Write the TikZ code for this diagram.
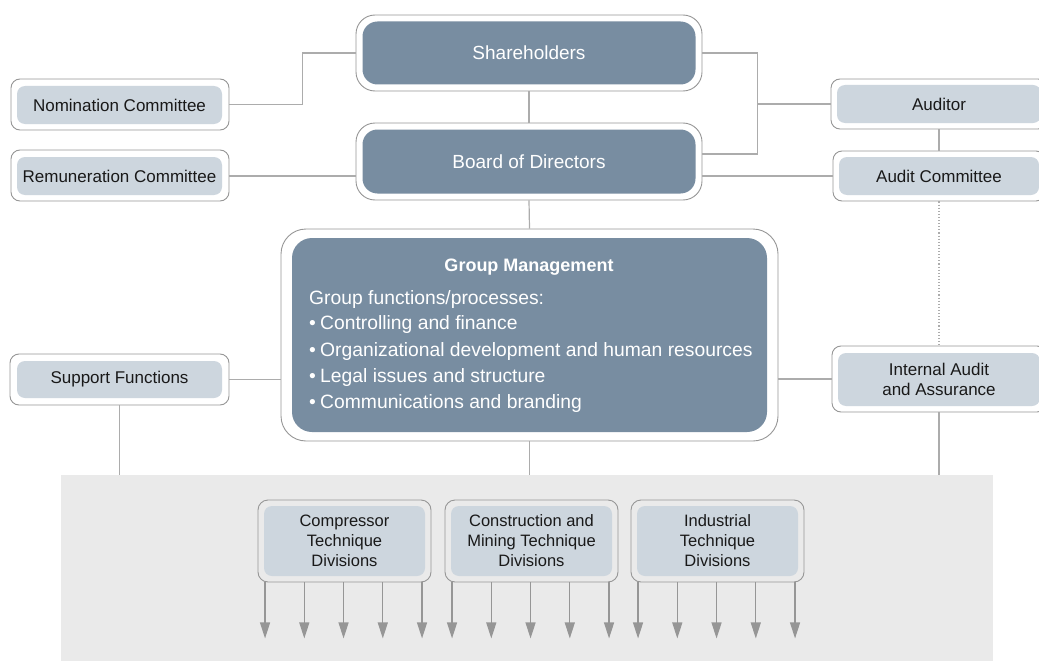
\documentclass[tikz,border=0pt]{standalone}
\usepackage{fontspec}
\setmainfont{Liberation Sans}
\usetikzlibrary{arrows.meta,calc}
\definecolor{darkfill}{RGB}{120,141,161}
\definecolor{lightfill}{RGB}{205,214,222}
\definecolor{bordergray}{RGB}{150,150,150}
\definecolor{linegray}{RGB}{172,172,172}
\definecolor{bandgray}{RGB}{234,234,234}
\definecolor{arrowgray}{RGB}{150,150,150}
\definecolor{txt}{RGB}{25,25,25}
\tikzset{
  outerbox/.style={draw=bordergray, fill=white, line width=0.9pt, rectangle, rounded corners=#1, inner sep=0pt},
  outerbox/.default=9pt,
  darkbox/.style={fill=darkfill, rectangle, rounded corners=#1, inner sep=0pt, text=white, font=\fontsize{19}{22}\selectfont},
  darkbox/.default=15pt,
  lightbox/.style={fill=lightfill, rectangle, rounded corners=#1, inner sep=0pt, text=txt, font=\fontsize{17}{20}\selectfont, align=center},
  lightbox/.default=8pt,
  divbox/.style={lightbox, font=\fontsize{16.5}{20}\selectfont},
  conn/.style={draw=linegray, line width=1.2pt},
  dotconn/.style={draw=linegray, line width=1.1pt, dotted},
  arr/.style={draw=arrowgray, line width=1.2pt, -{Triangle[width=10pt,length=16pt]}},
  gmtext/.style={text=white, inner sep=0pt, font=\fontsize{19.3}{22}\selectfont, anchor=base west}
}
\begin{document}
\begin{tikzpicture}[x=1pt,y=-1pt]
\useasboundingbox (0,0) rectangle (1039,661);
\clip (0,0) rectangle (1039,661);

% grey band
\node[fill=bandgray, rectangle, inner sep=0pt, minimum width=932, minimum height=188] (band) at (527,569) {};

% Shareholders
\node[outerbox=19pt, minimum width=346, minimum height=76] (sh) at (529,53) {};
\node[darkbox, minimum width=333, minimum height=63] (shi) at (529,53) {Shareholders};
% Board of Directors
\node[outerbox=19pt, minimum width=346, minimum height=77] (bod) at (529,161.5) {};
\node[darkbox, minimum width=333, minimum height=64] (bodi) at (529,161.5) {Board of Directors};

% left committees
\node[outerbox, minimum width=218, minimum height=51] (nom) at (120,104.5) {};
\node[lightbox, minimum width=205, minimum height=38] (nomi) at (119.5,105) {Nomination Committee};
\node[outerbox, minimum width=218, minimum height=51] (rem) at (120,175.5) {};
\node[lightbox, minimum width=205, minimum height=38] (remi) at (119.5,176) {Remuneration Committee};
\node[outerbox, minimum width=219, minimum height=51] (sup) at (119.5,379.5) {};
\node[lightbox, minimum width=205, minimum height=37] (supi) at (119.5,379.5) {Support Functions};

% right side
\node[outerbox, minimum width=216, minimum height=50] (aud) at (939,104) {};
\node[lightbox, minimum width=204, minimum height=38] (audi) at (939,104) {Auditor};
\node[outerbox, minimum width=212, minimum height=50] (ac) at (939,176) {};
\node[lightbox, minimum width=200, minimum height=38] (aci) at (939,176) {Audit Committee};
\node[outerbox, minimum width=214, minimum height=66] (ia) at (939,379) {};
\node[lightbox, minimum width=202, minimum height=53] (iai) at (939,379.5) {Internal Audit\\and Assurance};

% Group Management
\node[outerbox=25pt, minimum width=497, minimum height=212] (gm) at (529.5,335) {};
\node[darkbox=20pt, minimum width=475, minimum height=194] (gmi) at (529.5,335) {};
\node[text=white, inner sep=0pt, font=\fontsize{18}{22}\selectfont\bfseries, anchor=base] (gmh) at (529,271) {Group Management};
\node[gmtext] (gl0) at (309,304) {Group functions/processes:};
\node[gmtext] (gl1) at (309,329.5) {\textbullet\hspace{0.22em}Controlling and finance};
\node[gmtext] (gl2) at (309,356) {\textbullet\hspace{0.22em}Organizational development and human resources};
\node[gmtext] (gl3) at (309,382) {\textbullet\hspace{0.22em}Legal issues and structure};
\node[gmtext] (gl4) at (309,408) {\textbullet\hspace{0.22em}Communications and branding};

% divisions
\node[outerbox=10pt, draw=bordergray, fill=bandgray, minimum width=173, minimum height=82] (cmp) at (344.5,541) {};
\node[divbox, minimum width=161, minimum height=70] (cmpi) at (344.5,541) {Compressor\\Technique\\Divisions};
\node[outerbox=10pt, draw=bordergray, fill=bandgray, minimum width=173, minimum height=82] (cmt) at (531.5,541) {};
\node[divbox, minimum width=161, minimum height=70] (cmti) at (531.5,541) {Construction and\\Mining Technique\\Divisions};
\node[outerbox=10pt, draw=bordergray, fill=bandgray, minimum width=173, minimum height=82] (ind) at (717.5,541) {};
\node[divbox, minimum width=161, minimum height=70] (indi) at (717.5,541) {Industrial\\Technique\\Divisions};

% connectors
\draw[conn] (nom.east) -- ++(73,0) |- (sh.west);
\draw[conn] ([yshift=-14.5pt]bod.west) -- ([yshift=-14.5pt]bod.west -| rem.east);
\draw[conn] (sh.east) -- ++(55,0) coordinate (jt) |- ([yshift=7.5pt]bod.east);
\draw[conn] (jt |- aud.west) -- (aud.west);
\draw[conn] (ac.west -| bod.east) -- (ac.west);
\draw[conn] (aud.south) -- (ac.north);
\draw[dotconn] (ac.south) -- (ia.north);
\draw[conn] (sh.south) -- (bod.north);
\draw[conn] (bod.south) -- (gm.north);
\draw[conn] (sup.east) -- (sup.east -| gm.west);
\draw[conn] (gm.east |- ia.west) -- (ia.west);
\draw[conn] (sup.south) -- (sup.south |- band.north);
\draw[conn] (gm.south) -- (gm.south |- band.north);
\draw[conn] (ia.south) -- (ia.south |- band.north);

% division arrows
\foreach \d in {cmp,cmt,ind}{
  \foreach \i in {0,...,4}{
    \draw[arr] ([xshift={7.5+\i*39.25}]\d.south west) -- ++(0,56);
  }
}
\end{tikzpicture}
\end{document}
